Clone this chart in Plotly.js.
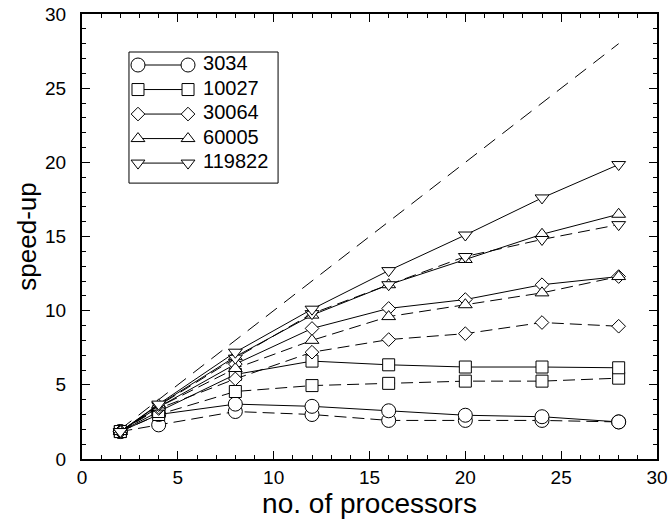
<!DOCTYPE html>
<html>
<head>
<meta charset="utf-8">
<script src="https://cdn.plot.ly/plotly-3.0.1.min.js"></script>
<style>html,body{margin:0;padding:0;background:#fff;}#chart{width:668px;height:522px;}</style>
</head>
<body>
<div id="chart"></div>
<script>
// ---- data ----
const procs = [2, 4, 8, 12, 16, 20, 24, 28];
const idealX = [2, 28];
const idealY = [2, 28];
const names = ['3034', '10027', '30064', '60005', '119822'];
const symbols = ['circle', 'square', 'diamond', 'triangle-up', 'triangle-down'];
// solid-line series
const s3034_solid   = [1.85, 3.0, 3.7, 3.55, 3.25, 2.95, 2.85, 2.5];
const s10027_solid  = [1.85, 3.2, 5.7, 6.6, 6.35, 6.2, 6.2, 6.15];
const s30064_solid  = [1.85, 3.5, 6.4, 8.8, 10.15, 10.75, 11.75, 12.3];
const s60005_solid  = [1.85, 3.65, 6.9, 9.7, 11.75, 13.45, 15.15, 16.5];
const s119822_solid = [1.85, 3.7, 7.2, 10.1, 12.7, 15.1, 17.6, 19.85];
// dashed-line series
const s3034_dash   = [1.85, 2.3, 3.2, 3.0, 2.6, 2.6, 2.6, 2.5];
const s10027_dash  = [1.85, 3.0, 4.55, 4.95, 5.1, 5.25, 5.25, 5.45];
const s30064_dash  = [1.85, 3.4, 5.4, 7.2, 8.05, 8.45, 9.2, 8.95];
const s60005_dash  = [1.85, 3.5, 6.1, 8.0, 9.6, 10.4, 11.2, 12.3];
const s119822_dash = [1.85, 3.6, 6.8, 9.8, 11.75, 13.65, 14.8, 15.8];
const xTickVals = [0, 5, 10, 15, 20, 25, 30];
const yTickVals = [0, 5, 10, 15, 20, 25, 30];

// ---- styling ----
const solidSets = [s3034_solid, s10027_solid, s30064_solid, s60005_solid, s119822_solid];
const dashSets = [s3034_dash, s10027_dash, s30064_dash, s60005_dash, s119822_dash];
const markerSizes = [14, 12, 10.5, 12, 12];
const FONT = 'Liberation Sans, Arial, Helvetica, sans-serif';

function mk(i) {
  return {symbol: symbols[i], size: markerSizes[i], color: '#fff', line: {color: '#000', width: 1}};
}

const traces = [];
traces.push({
  x: idealX, y: idealY, mode: 'lines', showlegend: false, hoverinfo: 'skip',
  line: {color: '#000', width: 1, dash: '14px,9px'}
});
for (let i = 0; i < names.length; i++) {
  traces.push({
    x: procs, y: dashSets[i], mode: 'lines+markers', showlegend: false, hoverinfo: 'skip',
    line: {color: '#000', width: 1, dash: '12px,6px'}, marker: mk(i)
  });
  traces.push({
    x: procs, y: solidSets[i], mode: 'lines+markers', showlegend: false, hoverinfo: 'skip',
    line: {color: '#000', width: 1}, marker: mk(i)
  });
}
// custom legend (markers at both ends of the sample line)
const legX = [9, 59];
for (let i = 0; i < names.length; i++) {
  const ry = 13 + i * 24.5;
  traces.push({
    x: legX, y: [ry, ry], xaxis: 'x2', yaxis: 'y2', mode: 'lines+markers',
    showlegend: false, hoverinfo: 'skip', cliponaxis: false,
    line: {color: '#000', width: 1}, marker: mk(i)
  });
  traces.push({
    x: [74], y: [ry], xaxis: 'x2', yaxis: 'y2', mode: 'text', text: [names[i]],
    textposition: 'middle right', showlegend: false, hoverinfo: 'skip', cliponaxis: false,
    textfont: {family: FONT, size: 20, color: '#000'}
  });
}

const axisCommon = {
  showgrid: false, zeroline: false, showline: true, linecolor: '#000', linewidth: 2,
  mirror: 'ticks', ticks: 'inside', ticklen: 8, tickwidth: 1, tickcolor: '#000',
  tickfont: {family: FONT, size: 19, color: '#000'},
  minor: {dtick: 1, ticks: 'inside', ticklen: 4, tickwidth: 1, tickcolor: '#000'},
  fixedrange: true
};

const layout = {
  width: 668, height: 522,
  margin: {l: 82, r: 11, t: 14, b: 63},
  paper_bgcolor: '#fff', plot_bgcolor: '#fff',
  showlegend: false, hovermode: false,
  xaxis: Object.assign({}, axisCommon, {
    range: [0, 30], tickvals: xTickVals, ticklabelstandoff: 0,
    title: {text: 'no. of processors', font: {family: FONT, size: 28, color: '#000'}, standoff: 0}
  }),
  yaxis: Object.assign({}, axisCommon, {
    range: [0, 30], tickvals: yTickVals, ticklabelstandoff: 10,
    title: {text: 'speed-up', font: {family: FONT, size: 26, color: '#000'}, standoff: 1}
  }),
  xaxis2: {domain: [0.0817, 0.341], range: [0, 149], visible: false, fixedrange: true, anchor: 'y2'},
  yaxis2: {domain: [0.620, 0.9146], range: [131, 0], visible: false, fixedrange: true, anchor: 'x2'},
  shapes: [{
    type: 'rect', xref: 'paper', yref: 'paper', x0: 0.0817, x1: 0.341, y0: 0.620, y1: 0.9146,
    line: {color: '#000', width: 1}, fillcolor: 'rgba(0,0,0,0)'
  }]
};

Plotly.newPlot('chart', traces, layout, {staticPlot: true, displayModeBar: false});
</script>
</body>
</html>
